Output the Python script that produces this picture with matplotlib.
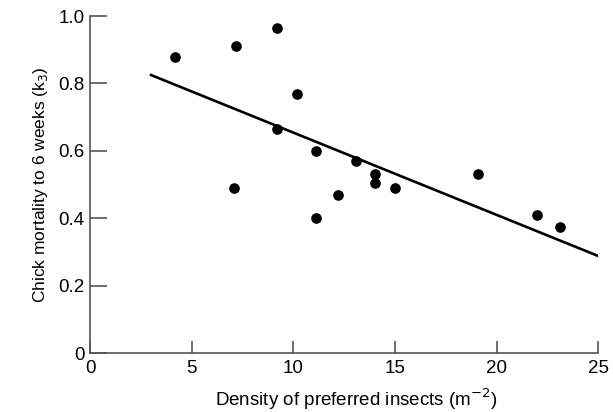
import matplotlib
matplotlib.use("Agg")
from matplotlib import pyplot as plt

plt.rcParams['font.family'] = ['Liberation Sans', 'DejaVu Sans']

# insect density (per m2) and chick mortality k3
density = [4.2, 7.2, 9.2, 10.2, 9.2, 7.1, 11.1, 11.1, 13.1, 14.0, 14.0, 15.0, 12.2, 19.1, 22.0, 23.1]
mortality = [0.88, 0.91, 0.965, 0.77, 0.665, 0.49, 0.60, 0.40, 0.57, 0.53, 0.505, 0.49, 0.47, 0.53, 0.41, 0.375]

# fitted line end points
fit_x = [3.0, 25.0]
fit_y = [0.825, 0.288]

xticks = [0, 5, 10, 15, 20, 25]
yticks = [0, 0.2, 0.4, 0.6, 0.8, 1.0]
ylabels = ['0', '0.2', '0.4', '0.6', '0.8', '1.0']

fig = plt.figure(figsize=(6.13, 4.12), dpi=100)
ax = fig.add_axes([0.147, 0.143, 0.829, 0.818])

ax.plot(fit_x, fit_y, color='black', lw=1.9, zorder=2)
ax.scatter(density, mortality, s=44, color='black', zorder=3)

ax.set_xlim(0, 25)
ax.set_ylim(0, 1.0)
ax.set_xticks(xticks)
ax.set_yticks(yticks)
ax.set_yticklabels(ylabels)

for s in ['top', 'right']:
    ax.spines[s].set_visible(False)
for s in ['left', 'bottom']:
    ax.spines[s].set_color('#555555')
    ax.spines[s].set_linewidth(1.2)

ax.tick_params(axis='x', direction='in', length=9, width=1.2, color='#555555', labelsize=13.5, pad=5)
ax.tick_params(axis='y', direction='in', length=12, width=1.2, color='#555555', labelsize=13.5, pad=4)

ax.set_xlabel('Density of preferred insects (m$^{-2}$)', fontsize=13.5, labelpad=7)
ax.xaxis.set_label_coords(0.524, -0.1)
ax.set_ylabel('Chick mortality to 6 weeks (k$_3$)', fontsize=12.5, labelpad=6)

fig.savefig('out.png', dpi=100)
